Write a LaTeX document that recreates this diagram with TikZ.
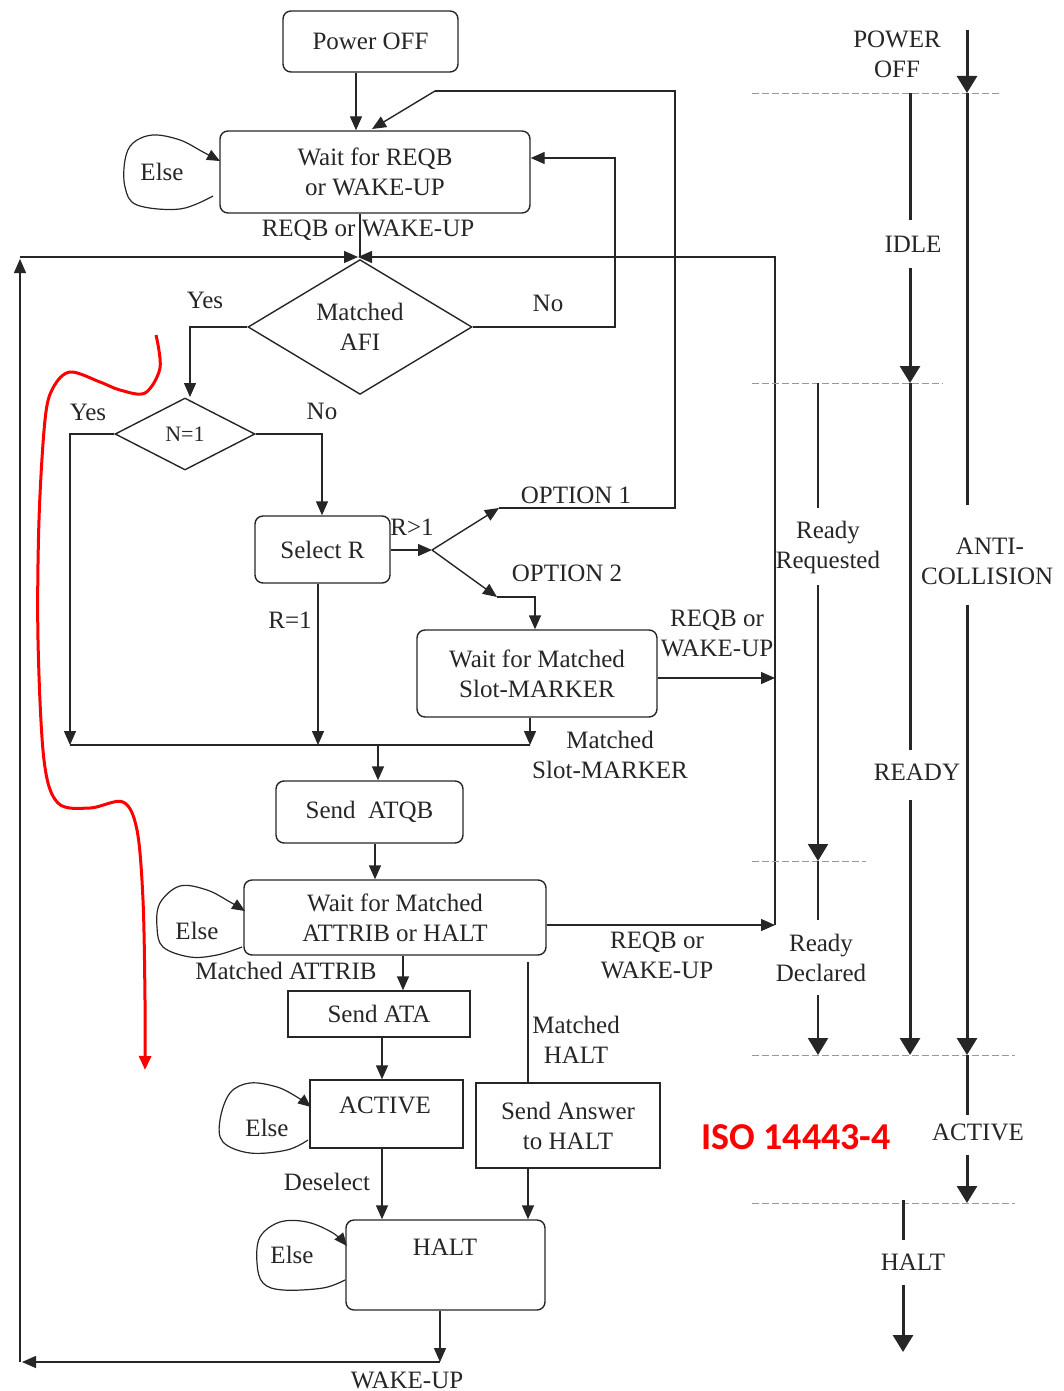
\documentclass[tikz,border=0pt]{standalone}
\usepackage{fontspec}
\newfontfamily\tms{Liberation Serif}[Scale=1.0]
\usetikzlibrary{arrows.meta,shapes.geometric,calc}
\begin{document}
\begin{tikzpicture}[x=1pt,y=-1pt,
  every node/.style={font=\tms\fontsize{25}{30}\selectfont, inner sep=0pt, text=black!85, align=center},
  ln/.style={line width=1.4pt, draw=black!85},
  arr/.style={ln, -{Triangle[length=14pt,width=12pt]}},
  rbox/.style={ln, rounded corners=8pt},
  sbox/.style={ln},
  dia/.style={ln, diamond},
  tline/.style={line width=3pt, draw=black!85},
  tarr/.style={tline, -{Triangle[length=17pt,width=20pt]}},
  nline/.style={line width=2.2pt, draw=black!85},
  narr/.style={nline, -{Triangle[length=17pt,width=20pt]}},
  dsh/.style={line width=0.9pt, draw=black!40, dash pattern=on 7pt off 3pt},
  eloop/.style={line width=1.2pt, draw=black!85, -{Triangle[length=13pt,width=11pt]}},
  redc/.style={line width=3pt, draw=red, -{Triangle[length=14pt,width=12pt]}}
]
\useasboundingbox (0,0) rectangle (1063,1391);

% ---------- boxes ----------
\node[rbox, minimum width=175pt, minimum height=61pt] (pwr) at (370.5,41.5) {Power OFF};
\node[rbox, minimum width=310pt, minimum height=82pt] (wreqb) at (375,172) {Wait for REQB\\or WAKE-UP};
\node[dia, minimum width=224pt, minimum height=130pt] (afi) at (360,327) {Matched\\AFI};
\node[dia, minimum width=140pt, minimum height=72pt, font=\tms\fontsize{22}{26}\selectfont] (n1) at (185,434) {N=1};
\node[rbox, minimum width=135pt, minimum height=67pt] (selr) at (322.5,549.5) {Select R};
\node[rbox, minimum width=240pt, minimum height=87pt] (slot) at (537,673.5) {Wait for Matched\\Slot-MARKER};
\node[rbox, minimum width=187pt, minimum height=62pt] (atqb) at (369.5,812) {Send\ \ ATQB};
\node[rbox, minimum width=302pt, minimum height=75pt] (attrib) at (395,917.5) {Wait for Matched\\ATTRIB or HALT};
\node[sbox, minimum width=182pt, minimum height=46pt] (ata) at (379,1014) {Send ATA};
\node[sbox, minimum width=153pt, minimum height=68pt] (active) at (386.5,1114) {};
\node (activeT) at (385,1105) {ACTIVE};
\node[sbox, minimum width=184pt, minimum height=85pt] (ans) at (568,1125.5) {Send Answer\\to HALT};
\node[rbox, minimum width=199pt, minimum height=90pt] (haltb) at (445.5,1265) {};
\node (haltT) at (445,1247) {HALT};

% ---------- else loops ----------
\node (e1) at (162,172) {Else};
\node (e2) at (197,931) {Else};
\node (e3) at (267,1128) {Else};
\node (e4) at (292,1255) {Else};
\draw[eloop] plot[smooth, tension=0.6] coordinates {(213,196) (180,209) (137,205) (125,187) (125,160) (133,143) (153,135) (180,140) (203,152) (220,161)};
\draw[eloop] plot[smooth, tension=0.6] coordinates {(242,947) (217,955) (190,957) (163,947) (157,927) (160,903) (180,886) (207,890) (230,902) (245,911)};
\draw[eloop] plot[smooth, tension=0.6] coordinates {(308,1140) (287,1150) (250,1153) (223,1142) (220,1120) (230,1093) (250,1083) (277,1087) (297,1097) (311,1107)};
\draw[eloop] plot[smooth, tension=0.6] coordinates {(345,1280) (323,1288) (283,1290) (263,1283) (257,1263) (260,1237) (280,1222) (307,1222) (333,1233) (347,1246)};

% ---------- named points ----------
\coordinate (br) at (432,550);
\coordinate (o1) at (499,508);
\coordinate (o2) at (497,597);
\coordinate (k1) at (435,91);
\coordinate (bow) at (358,257);
\coordinate (jl) at (70,745);
\coordinate (jr) at (530,745);
\coordinate (jm) at (378,745);
\coordinate (bl) at (20,1362);
\coordinate (bm) at (440,1362);
\coordinate (rc) at (775,925);
\coordinate (mh) at (528,962);

% ---------- connectors ----------
\draw[arr] (356,0 |- pwr.south) -- (356,0 |- wreqb.north);
\draw[ln] (o1) -- (675,508) -- (675,91) -- (k1);
\draw[arr] (k1) -- (372,129);
\draw[arr] (afi.east) -- (615,0 |- afi.east) -- (615,158) -- (wreqb.east |- 0,158);
\draw[ln] (360,0 |- wreqb.south) -- (360,257);
\draw[arr] (20,257) -- (bow);
\draw[arr] (rc) -- (775,257) -- (bow);
\draw[arr] (afi.west) -- (190,0 |- afi.west) -- (190,397);
\draw[arr] (n1.west) -- (70,0 |- n1.west) -- (jl);
\draw[arr] (n1.east) -- (322,0 |- n1.east) -- (322,0 |- selr.north);
\draw[arr] (318,0 |- selr.south) -- (318,745);
\draw[ln] (jl) -- (jr);
\draw[arr] (530,0 |- slot.south) -- (jr);
\draw[arr] (selr.east |- br) -- (br);
\draw[arr] (br) -- (o1);
\draw[arr] (br) -- (o2);
\draw[arr] (o2) -- (535,597) -- (535,0 |- slot.north);
\draw[arr] (slot.east |- 0,678) -- (775,678);
\draw[arr] (jm) -- (378,0 |- atqb.north);
\draw[arr] (375,0 |- atqb.south) -- (375,0 |- attrib.north);
\draw[arr] (attrib.east |- rc) -- (rc);
\draw[arr] (403,0 |- attrib.south) -- (403,0 |- ata.north);
\draw[arr] (382,0 |- ata.south) -- (382,0 |- active.north);
\draw[arr] (382,0 |- active.south) -- (382,0 |- haltb.north);
\draw[ln] (mh) -- (528,0 |- ans.north);
\draw[arr] (528,0 |- ans.south) -- (528,0 |- haltb.north);
\draw[arr] (440,0 |- haltb.south) -- (bm);
\draw[arr] (bm) -- (22,1362);
\draw[arr] (bl) -- (20,259);

% ---------- labels ----------
\node (l1) at (368,230) {REQB or WAKE-UP};
\node (l2) at (205,300) {Yes};
\node (l3) at (548,303) {No};
\node (l4) at (88,412) {Yes};
\node (l5) at (322,411) {No};
\node (l6) at (412,527) {R>1};
\node (l7) at (576,495) {OPTION 1};
\node (l8) at (567,573) {OPTION 2};
\node (l9) at (290,620) {R=1};
\node (l10) at (717,633) {REQB or\\WAKE-UP};
\node (l11) at (610,755) {Matched\\Slot-MARKER};
\node (l12) at (657,955) {REQB or\\WAKE-UP};
\node (l13) at (286,971) {Matched ATTRIB};
\node (l14) at (576,1040) {Matched\\HALT};
\node (l15) at (327,1182) {Deselect};
\node (l16) at (407,1380) {WAKE-UP};

% ---------- state column ----------
\draw[dsh] (752,93) -- (1002,93);
\draw[dsh] (752,383) -- (943,383);
\draw[dsh] (752,861) -- (866,861);
\draw[dsh] (752,1055) -- (1015,1055);
\draw[dsh] (752,1203) -- (1015,1203);

\node (s1) at (897,54) {POWER\\OFF};
\node (s2) at (913,244) {IDLE};
\node (s3) at (828,547) {Ready\\Requested};
\node (s4a) at (990,546) {ANTI-};
\node[anchor=west] (s4b) at (921,576) {COLLISION};
\node (s5) at (917,772) {READY};
\node (s6) at (821,958) {Ready\\Declared};
\node (s7) at (978,1132) {ACTIVE};
\node (s8) at (913,1262) {HALT};

\draw[tarr] (967,30) -- (967,93);
\draw[tline] (967,93) -- (967,505);
\draw[tarr] (967,605) -- (967,1055);
\draw[tline] (967,1055) -- (967,1115);
\draw[tarr] (967,1155) -- (967,1203);

\draw[tline] (910,93) -- (910,220);
\draw[tarr] (910,268) -- (910,383);
\draw[tline] (910,383) -- (910,750);
\draw[tarr] (910,800) -- (910,1055);

\draw[nline] (818,383) -- (818,508);
\draw[narr] (818,585) -- (818,861);
\draw[nline] (818,861) -- (818,920);
\draw[narr] (818,995) -- (818,1055);

\draw[tline] (903,1200) -- (903,1240);
\draw[tarr] (903,1285) -- (903,1352);

% ---------- red annotations ----------
\node[font=\fontspec{Carlito}\bfseries\fontsize{38}{42}\selectfont, text=red] (iso) at (796,1137) {ISO 14443-4};
\draw[redc] plot[smooth, tension=0.55] coordinates {(156,335) (160,368) (145,393) (120,390) (100,382) (70,372) (53,388) (45,420) (39,520) (38,640) (44,760) (58,803) (90,808) (123,802) (137,830) (143,900) (145,1000) (145,1070)};
\end{tikzpicture}
\end{document}
